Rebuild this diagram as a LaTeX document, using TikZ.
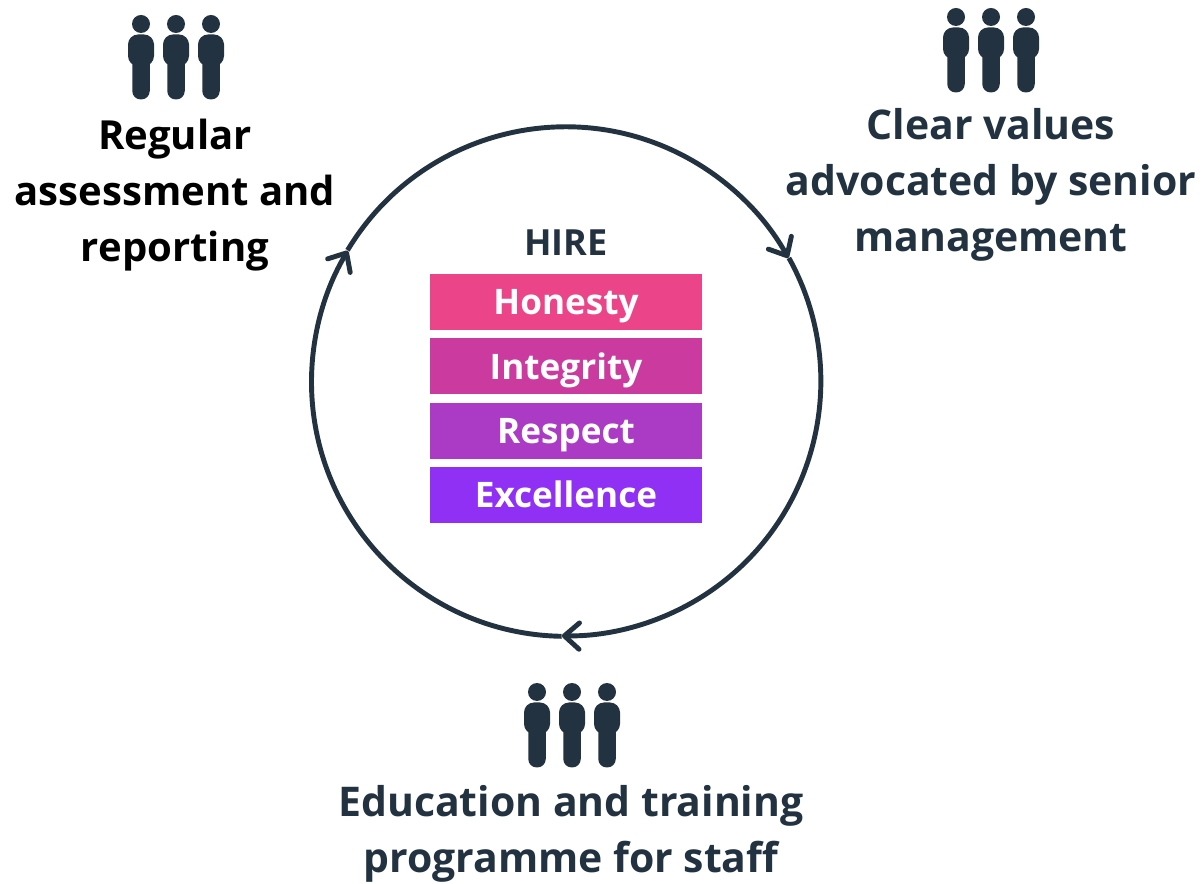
\documentclass[tikz,border=0pt]{standalone}
\usepackage{fontspec}
\setmainfont{Open Sans}
\usetikzlibrary{arrows.meta,positioning}
\definecolor{darkslate}{HTML}{233240}
\definecolor{honestypink}{HTML}{EC4489}
\definecolor{integritypink}{HTML}{CB3B9F}
\definecolor{respectpurple}{HTML}{AB3BC4}
\definecolor{excelviolet}{HTML}{9030F5}
\tikzset{
  valuebar/.style={minimum width=5.44cm,minimum height=1.12cm,inner sep=0pt,text height=0.82cm,text depth=0.3cm,text=white,font=\fontsize{20}{24}\selectfont\bfseries},
  caption/.style={align=center,font=\fontsize{23.3}{31.7}\selectfont\bfseries},
  person/.pic={
    \fill (0,0.29) circle (0.18);
    \fill[rounded corners=0.2cm] (-0.26,-0.55) -- (-0.26,0.08) -- (0.26,0.08) -- (0.26,-0.55) -- cycle;
    \fill[rounded corners=0.17cm] (-0.175,-0.3) -- (-0.175,-1.22) -- (0.175,-1.22) -- (0.175,-0.3) -- cycle;
  }
}
\begin{document}
\begin{tikzpicture}[>={Straight Barb[length=8.5pt,width=15pt,line width=2.8pt,round]}]
  \useasboundingbox (0,0) rectangle (24.04,17.66);

  % circle
  \node[circle,minimum size=10.18cm,inner sep=0pt] (cycle) at (11.32,10.03) {};
  \draw[->,darkslate,line width=2.8pt] (cycle.149) arc[start angle=149,end angle=29,radius=5.09cm];
  \draw[->,darkslate,line width=2.8pt] (cycle.29) arc[start angle=29,end angle=-91,radius=5.09cm];
  \draw[->,darkslate,line width=2.8pt] (cycle.-91) arc[start angle=269,end angle=149,radius=5.09cm];

  % values
  \node[font=\fontsize{20.5}{24}\selectfont\bfseries,text=darkslate] (hire) at (11.32,12.81) {HIRE};
  \node[valuebar,fill=honestypink] (honesty) at (11.32,11.62) {Honesty};
  \node[valuebar,fill=integritypink] (integrity) at (11.32,10.33) {Integrity};
  \node[valuebar,fill=respectpurple] (respect) at (11.32,9.04) {Respect};
  \node[valuebar,fill=excelviolet] (excellence) at (11.32,7.76) {Excellence};

  % people
  \foreach \x/\y in {3.52/17.18, 19.82/17.32, 11.44/3.82}{
     \foreach \dx in {-0.7,0,0.7}{
        \pic[darkslate] at (\x+\dx,\y-0.29) {person};
     }
  }

  % captions
  \node[caption,text=black,font=\fontsize{22.8}{31.7}\selectfont\bfseries] (assess) at (3.5,13.76) {Regular\\assessment and\\reporting};
  \node[caption,text=darkslate] (clear) at (19.82,13.96) {Clear values\\advocated by senior\\management};
  \node[caption,text=darkslate] (train) at (11.42,0.98) {Education and training\\programme for staff};
\end{tikzpicture}
\end{document}
